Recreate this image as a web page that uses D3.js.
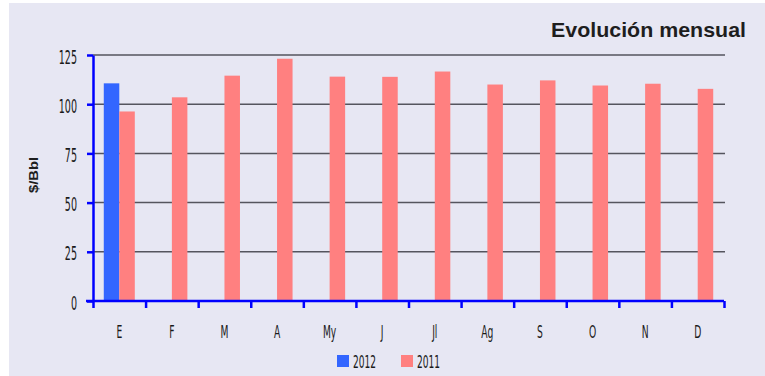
<!DOCTYPE html>
<html>
<head>
<meta charset="utf-8">
<script src="https://cdn.jsdelivr.net/npm/d3@7"></script>
<style>
  html, body { margin: 0; padding: 0; background: #ffffff; }
  svg { display: block; }
</style>
</head>
<body>
<svg id="chart" width="765" height="376"></svg>
<script>
// Monthly crude price, $/Bbl
const months = ["E", "F", "M", "A", "My", "J", "Jl", "Ag", "S", "O", "N", "D"];
const seriesNames = ["2012", "2011"];
const values2012 = [110.6, null, null, null, null, null, null, null, null, null, null, null];
const values2011 = [96.3, 103.5, 114.5, 123.1, 114.0, 113.9, 116.6, 110.0, 112.1, 109.5, 110.4, 107.8];
const yTicks = [0, 25, 50, 75, 100, 125];
const colors = { "2012": "#3366ff", "2011": "#ff8080" };

const svg = d3.select("#chart");
const W = 765, H = 376;
const plot = { left: 93, right: 724, top: 55, bottom: 301 };
const narrowFont = "'Liberation Sans Narrow', 'DejaVu Sans Condensed', 'Liberation Sans', sans-serif";

// panel background
svg.append("rect").attr("x", 9).attr("y", 3).attr("width", W - 9).attr("height", H - 3)
  .attr("fill", "#e7e7f3");

// title
svg.append("text")
  .attr("x", 746).attr("y", 37)
  .attr("text-anchor", "end")
  .attr("font-family", "'Liberation Sans', Arial, sans-serif")
  .attr("font-weight", "bold")
  .attr("font-size", 21)
  .attr("fill", "#1e1e1e")
  .attr("textLength", 195)
  .attr("lengthAdjust", "spacingAndGlyphs")
  .text("Evolución mensual");

const x0 = d3.scaleBand().domain(months).range([plot.left, plot.right]).paddingInner(0.41).paddingOuter(0.205);
const x1 = d3.scaleBand().domain(seriesNames).range([0, x0.bandwidth()]);
const y = d3.scaleLinear().domain([0, 125]).range([plot.bottom, plot.top]);

// horizontal gridlines
svg.append("g")
  .selectAll("line")
  .data(yTicks.filter(d => d > 0))
  .join("line")
  .attr("x1", plot.left).attr("x2", plot.right + 1)
  .attr("y1", d => y(d)).attr("y2", d => y(d))
  .attr("stroke", "#55555e")
  .attr("stroke-width", 1.5);

// bars
const rows = months.map((m, i) => ({ month: m, "2012": values2012[i], "2011": values2011[i] }));
const groups = svg.append("g").selectAll("g")
  .data(rows)
  .join("g")
  .attr("transform", d => `translate(${x0(d.month)},0)`);

groups.selectAll("rect")
  .data(d => seriesNames.filter(s => d[s] != null).map(s => ({ key: s, value: d[s] })))
  .join("rect")
  .attr("x", d => x1(d.key))
  .attr("width", x1.bandwidth())
  .attr("y", d => y(d.value))
  .attr("height", d => y(0) - y(d.value))
  .attr("fill", d => colors[d.key]);

// y axis
const yAxis = svg.append("g")
  .attr("transform", `translate(${plot.left},0)`)
  .call(d3.axisLeft(y).tickValues(yTicks).tickSize(6).tickSizeOuter(0).tickFormat(d3.format("d")));
yAxis.select(".domain").attr("stroke", "#0000ff").attr("stroke-width", 2.5);
yAxis.selectAll(".tick line").attr("stroke", "#0000ff").attr("stroke-width", 2.5);
yAxis.selectAll(".tick text")
  .attr("x", null).attr("dy", null)
  .attr("transform", "translate(-16,8) scale(0.56,1)")
  .attr("font-family", narrowFont)
  .attr("font-size", 19)
  .attr("fill", "#1a1a1a")
  .attr("text-anchor", "end");

// x axis: ticks on category boundaries
const xBound = d3.scaleLinear().domain([0, months.length]).range([plot.left, plot.right]);
const xAxis = svg.append("g")
  .attr("transform", `translate(0,${plot.bottom})`)
  .call(d3.axisBottom(xBound).tickValues(d3.range(0, months.length + 1)).tickSize(7).tickSizeOuter(0).tickFormat(""));
xAxis.select(".domain").attr("d", `M${plot.left - 7},0H${plot.right}`)
  .attr("stroke", "#0000ff").attr("stroke-width", 2.5);
xAxis.selectAll(".tick line").attr("stroke", "#0000ff").attr("stroke-width", 2.5);

// month labels
svg.append("g").selectAll("text")
  .data(months)
  .join("text")
  .attr("transform", d => `translate(${x0(d) + x0.bandwidth() / 2},338) scale(0.6,1)`)
  .attr("text-anchor", "middle")
  .attr("font-family", narrowFont)
  .attr("font-size", 17)
  .attr("fill", "#1a1a1a")
  .text(d => d);

// y axis title
svg.append("text")
  .attr("transform", "translate(38,175) rotate(-90)")
  .attr("text-anchor", "middle")
  .attr("font-family", "'Liberation Sans', Arial, sans-serif")
  .attr("font-weight", "bold")
  .attr("font-size", 13)
  .attr("fill", "#1e1e1e")
  .attr("textLength", 36)
  .attr("lengthAdjust", "spacingAndGlyphs")
  .text("$/Bbl");

// legend
const legendX = [337, 401];
const legend = svg.append("g").selectAll("g")
  .data(seriesNames)
  .join("g")
  .attr("transform", (d, i) => `translate(${legendX[i]},355)`);
legend.append("rect").attr("width", 12).attr("height", 12).attr("fill", d => colors[d]);
legend.append("text")
  .attr("transform", "translate(16,12.5) scale(0.56,1)")
  .attr("font-family", narrowFont)
  .attr("font-size", 18)
  .attr("fill", "#1a1a1a")
  .text(d => d);
</script>
</body>
</html>
